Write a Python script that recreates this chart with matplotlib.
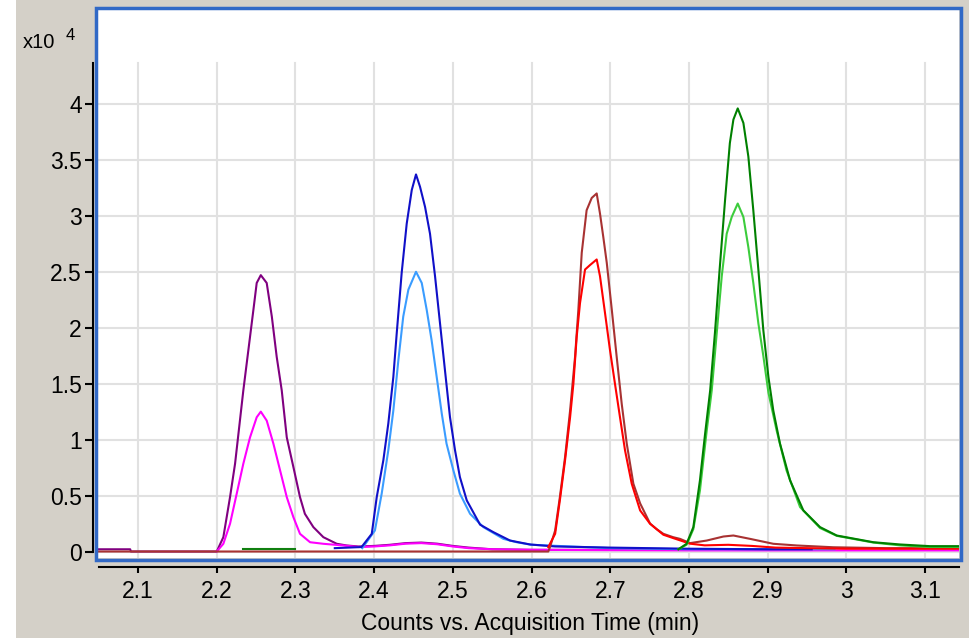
import matplotlib.pyplot as plt
from matplotlib.patches import Rectangle

# EIC traces: acquisition time (min) and counts (x10^4)
purple_t = [2.048, 2.090, 2.091, 2.200, 2.2084, 2.2169, 2.2233, 2.2338, 2.2402, 2.2466,
            2.2508, 2.256, 2.2635, 2.270, 2.2762, 2.2826, 2.289, 2.2974, 2.3058, 2.312,
            2.3228, 2.3355, 2.3525, 2.365, 2.38, 2.40, 2.42, 2.44, 2.46, 2.48, 2.50,
            2.52, 2.55, 2.60, 2.70, 2.80, 2.90, 2.956]
purple_v = [0.02, 0.02, 0.0, 0.0, 0.128, 0.486, 0.785, 1.44, 1.80, 2.16,
            2.40, 2.47, 2.40, 2.10, 1.74, 1.44, 1.02, 0.755, 0.486, 0.337,
            0.218, 0.128, 0.069, 0.054, 0.045, 0.05, 0.06, 0.075, 0.08, 0.07, 0.05,
            0.035, 0.02, 0.015, 0.015, 0.015, 0.015, 0.015]

magenta_t = [2.200, 2.2084, 2.2169, 2.2254, 2.2338, 2.2423, 2.2508, 2.256, 2.2635, 2.272,
             2.2805, 2.289, 2.2974, 2.3058, 2.3186, 2.3355, 2.361, 2.38, 2.40, 2.42,
             2.44, 2.46, 2.48, 2.50, 2.52, 2.55, 2.60, 2.70, 2.80, 2.90, 3.00, 3.143]
magenta_v = [0.0, 0.069, 0.248, 0.517, 0.785, 1.02, 1.20, 1.25, 1.17, 0.964,
             0.725, 0.486, 0.307, 0.158, 0.083, 0.069, 0.054, 0.04, 0.045, 0.055,
             0.07, 0.075, 0.065, 0.045, 0.03, 0.02, 0.015, 0.012, 0.01, 0.01, 0.01, 0.01]

blue_t = [2.35, 2.384, 2.397, 2.4033, 2.4117, 2.418, 2.4244, 2.4287, 2.435, 2.4414,
          2.4478, 2.4532, 2.4583, 2.4647, 2.471, 2.4774, 2.4837, 2.49, 2.4964, 2.5028,
          2.509, 2.5177, 2.5346, 2.5515, 2.5727, 2.598, 2.63, 2.70, 2.80, 2.90, 2.956]
blue_v = [0.03, 0.04, 0.158, 0.486, 0.815, 1.143, 1.56, 1.95, 2.49, 2.93,
          3.23, 3.37, 3.26, 3.08, 2.84, 2.46, 2.04, 1.62, 1.20, 0.904,
          0.665, 0.457, 0.24, 0.173, 0.098, 0.063, 0.045, 0.035, 0.025, 0.02, 0.02]

lightblue_t = [2.385, 2.401, 2.4096, 2.418, 2.4244, 2.4308, 2.437, 2.4435, 2.4532, 2.4605,
               2.4668, 2.473, 2.4795, 2.486, 2.492, 2.5007, 2.509, 2.5219, 2.5388, 2.5642,
               2.581, 2.60, 2.70, 2.80, 2.90, 2.956, 2.985]
lightblue_v = [0.03, 0.188, 0.517, 0.904, 1.26, 1.71, 2.10, 2.34, 2.50, 2.40,
               2.16, 1.89, 1.56, 1.23, 0.964, 0.725, 0.517, 0.337, 0.218, 0.113,
               0.083, 0.06, 0.03, 0.02, 0.02, 0.02, 0.02]

brown_t = [2.048, 2.6213, 2.6235, 2.63, 2.636, 2.6426, 2.649, 2.6553, 2.6595, 2.6638,
           2.670, 2.6765, 2.6828, 2.687, 2.6912, 2.6956, 2.702, 2.7082, 2.7146, 2.721,
           2.7294, 2.738, 2.7506, 2.759, 2.7675, 2.78, 2.7887, 2.8014, 2.8226, 2.8438,
           2.8565, 2.8777, 2.9072, 2.937, 2.9835, 3.05, 3.143]
brown_v = [0.0, 0.0, 0.04, 0.188, 0.486, 0.844, 1.26, 1.74, 2.16, 2.67,
           3.05, 3.16, 3.20, 3.02, 2.81, 2.58, 2.16, 1.74, 1.32, 0.964,
           0.606, 0.43, 0.25, 0.2, 0.158, 0.128, 0.113, 0.075, 0.098, 0.134,
           0.143, 0.113, 0.069, 0.054, 0.038, 0.03, 0.03]

red_t = [2.6213, 2.63, 2.636, 2.6426, 2.649, 2.6532, 2.6574, 2.6616, 2.668, 2.6743,
         2.6828, 2.687, 2.6934, 2.6997, 2.706, 2.7124, 2.7188, 2.7273, 2.738, 2.7506,
         2.7675, 2.78, 2.8014, 2.82, 2.85, 2.88, 2.91, 2.95, 3.0, 3.143]
red_v = [0.04, 0.158, 0.457, 0.815, 1.20, 1.50, 1.92, 2.22, 2.52, 2.56,
         2.61, 2.46, 2.13, 1.80, 1.50, 1.20, 0.904, 0.606, 0.367, 0.248,
         0.15, 0.12, 0.07, 0.055, 0.06, 0.05, 0.035, 0.03, 0.025, 0.025]

green_t = [2.7866, 2.797, 2.8056, 2.814, 2.8205, 2.827, 2.833, 2.839, 2.8459, 2.852,
           2.8565, 2.862, 2.8692, 2.8755, 2.8818, 2.8882, 2.8945, 2.901, 2.9072, 2.9157,
           2.9285, 2.9454, 2.9666, 2.9878, 3.0343, 3.068, 3.106, 3.143]
green_v = [0.02, 0.069, 0.218, 0.636, 1.05, 1.44, 1.95, 2.52, 3.14, 3.65,
           3.86, 3.96, 3.83, 3.53, 3.05, 2.52, 1.98, 1.56, 1.26, 0.964,
           0.636, 0.367, 0.218, 0.143, 0.083, 0.063, 0.048, 0.048]

lightgreen_t = [2.7866, 2.797, 2.8056, 2.814, 2.8226, 2.829, 2.8353, 2.8417, 2.848, 2.8544,
                2.862, 2.8692, 2.8755, 2.8818, 2.8882, 2.8945, 2.901, 2.9115, 2.924, 2.9412,
                2.9666, 2.9878, 3.0343, 3.068, 3.106, 3.143]
lightgreen_v = [0.02, 0.06, 0.2, 0.546, 1.08, 1.44, 1.95, 2.46, 2.84, 2.99,
                3.11, 2.99, 2.72, 2.40, 2.04, 1.75, 1.42, 1.08, 0.725, 0.397,
                0.21, 0.14, 0.08, 0.055, 0.04, 0.04]

# short green baseline blip before the first peak
blip_t = [2.233, 2.300]
blip_v = [0.018, 0.018]

x_ticks = [2.1, 2.2, 2.3, 2.4, 2.5, 2.6, 2.7, 2.8, 2.9, 3.0, 3.1]
y_ticks = [0, 0.5, 1, 1.5, 2, 2.5, 3, 3.5, 4]

W, H = 970, 638
BG = "#d4d0c8"
BORDER = "#3169c6"
GRID = "#e1e1e1"

plt.rcParams["font.family"] = ["Liberation Sans", "DejaVu Sans"]


def fx(px):
    return px / W


def fy(py):
    return 1 - py / H


fig = plt.figure(figsize=(W / 100, H / 100), dpi=100, facecolor=BG)

# white strip at the far left of the screenshot
fig.add_artist(Rectangle((0, 0), fx(16), 1, transform=fig.transFigure,
                         facecolor="white", edgecolor="none", zorder=0))

ax = fig.add_axes([fx(97.5), fy(558), fx(959.5) - fx(97.5), fy(9.5) - fy(558)])
ax.set_xlim(2.0485, 3.1438)
ax.set_ylim(-0.058, 4.844)
grid_top = 4.366

ax.set_yticks(y_ticks)
ax.set_yticklabels([f"{v:g}" for v in y_ticks])
ax.set_xticks(x_ticks)
ax.set_xticklabels([f"{v:g}" for v in x_ticks])

ylo, yhi = ax.get_ylim()
for v in y_ticks:
    ax.axhline(v, color=GRID, lw=1.5, zorder=0)
for t in x_ticks:
    ax.axvline(t, ymax=(grid_top - ylo) / (yhi - ylo), color=GRID, lw=1.5, zorder=0)

lw = 1.5
ax.plot(purple_t, purple_v, color="#800080", lw=lw)
ax.plot(magenta_t, magenta_v, color="#ff00ff", lw=lw)
ax.plot(lightblue_t, lightblue_v, color="#3a9cff", lw=lw)
ax.plot(blue_t, blue_v, color="#1010c8", lw=lw)
ax.plot(brown_t, brown_v, color="#a83232", lw=lw)
ax.plot(red_t, red_v, color="#ff0000", lw=lw)
ax.plot(lightgreen_t, lightgreen_v, color="#3ccc3c", lw=lw)
ax.plot(green_t, green_v, color="#008000", lw=lw)
ax.plot(blip_t, blip_v, color="#108010", lw=lw)

for side in ("top", "right"):
    ax.spines[side].set_visible(False)
ax.spines["left"].set_position(("outward", 3.2))
ax.spines["left"].set_bounds(0, grid_top)
ax.spines["bottom"].set_position(("outward", 6.5))
ax.spines["bottom"].set_bounds(2.05, 3.1438)
for side in ("left", "bottom"):
    ax.spines[side].set_linewidth(1.5)
    ax.spines[side].set_color("black")

ax.tick_params(axis="y", length=6, width=1.5, pad=2, labelsize=16.5, colors="black")
ax.tick_params(axis="x", length=4.5, width=1.5, pad=5, labelsize=16.5, colors="black")

ax.set_xlabel("Counts vs. Acquisition Time (min)", fontsize=16.5, va="baseline")
ax.xaxis.set_label_coords(0.5017, -0.1314)

# blue frame around the plot area
fig.add_artist(Rectangle((fx(95.7), fy(560)), fx(961.3) - fx(95.7), fy(7.5) - fy(560),
                         transform=fig.transFigure, facecolor="none",
                         edgecolor=BORDER, lw=2.5, zorder=5))

fig.text(fx(23), fy(48), "x10", fontsize=14.5, ha="left", va="baseline")
fig.text(fx(66), fy(40), "4", fontsize=12, ha="left", va="baseline")

fig.savefig("out.png", dpi=100, facecolor=BG)
